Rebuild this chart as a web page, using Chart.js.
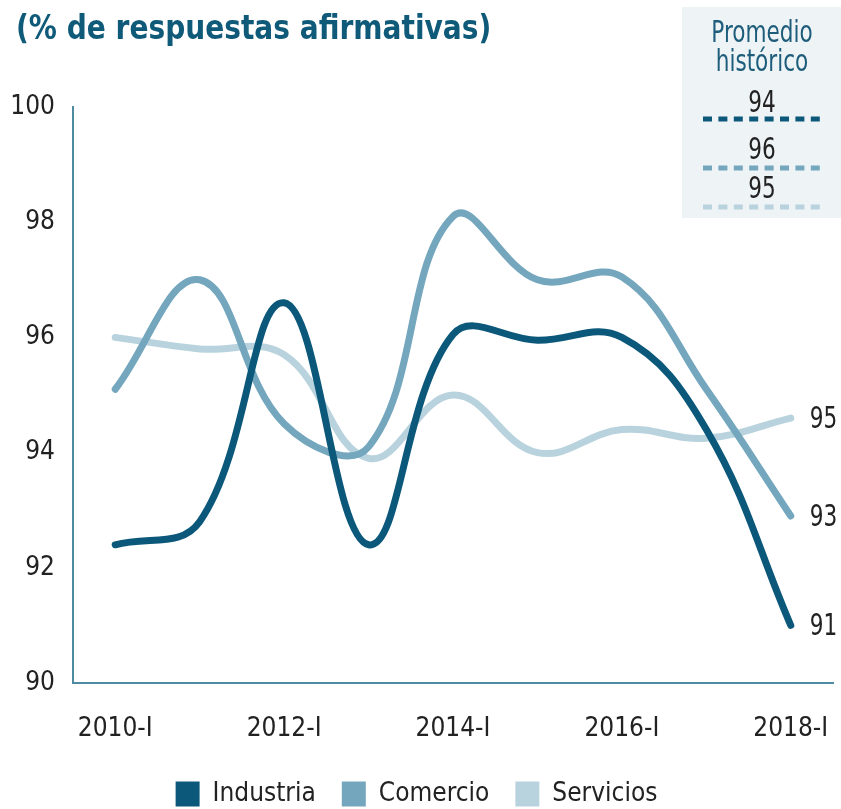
<!DOCTYPE html>
<html>
<head>
<meta charset="utf-8">
<script src="https://cdn.jsdelivr.net/npm/chart.js@4.4.0/dist/chart.umd.min.js"></script>
<style>
  html, body { margin: 0; padding: 0; background: #fff; }
  #wrap { width: 841px; height: 809px; position: relative; }
</style>
</head>
<body>
<div id="wrap"><canvas id="chart" width="841" height="809"></canvas></div>
<script>
// datos
const categories = ['2010-I', '2011-I', '2012-I', '2013-I', '2014-I', '2015-I', '2016-I', '2017-I', '2018-I'];
const industria = [92.4, 92.8, 96.6, 92.4, 96.05, 95.95, 96.0, 94.4, 91.0];
const comercio = [95.1, 97.0, 94.5, 94.1, 98.1, 97.0, 97.05, 95.1, 92.9];
const servicios = [96.0, 95.8, 95.7, 93.9, 95.0, 94.0, 94.4, 94.25, 94.6];
const seriesNames = ['Industria', 'Comercio', 'Servicios'];
const seriesColors = ['#0c587a', '#74a7bd', '#b9d3de'];
const historicalAvg = [94, 96, 95];
const yTicks = [90, 92, 94, 96, 98, 100];

const titleText = '(% de respuestas afirmativas)';
const FONT = '"DejaVu Sans Condensed", "DejaVu Sans", sans-serif';
const axisColor = '#4f8aa3';

Chart.defaults.font.family = FONT;

// texto estrechado horizontalmente (la fuente original es más angosta)
function narrowText(ctx, text, x, y, sx) {
    ctx.save();
    ctx.translate(x, y);
    ctx.scale(sx, 1);
    ctx.fillText(text, 0, 0);
    ctx.restore();
}

// título, recuadro de promedio histórico y etiquetas finales
const decorPlugin = {
    id: 'decor',
    afterDraw(chart) {
        const ctx = chart.ctx;
        ctx.save();

        ctx.font = 'bold 33px ' + FONT;
        ctx.fillStyle = '#0f5a79';
        ctx.textAlign = 'left';
        ctx.textBaseline = 'alphabetic';
        narrowText(ctx, titleText, 16, 39, 0.945);

        ctx.fillStyle = '#eef3f5';
        ctx.fillRect(682, 7, 159, 211);

        ctx.textAlign = 'center';
        ctx.textBaseline = 'middle';
        ctx.font = '30px ' + FONT;
        ctx.fillStyle = '#1d5d7b';
        narrowText(ctx, 'Promedio', 762, 34, 0.8);
        narrowText(ctx, 'histórico', 762, 63, 0.8);

        const numY = [104, 151, 190];
        const lineY = [119, 168, 207];
        historicalAvg.forEach((v, i) => {
            ctx.fillStyle = '#222';
            narrowText(ctx, String(v), 762, numY[i], 0.8);
            ctx.strokeStyle = seriesColors[i];
            ctx.lineWidth = 5;
            ctx.setLineDash([9, 6.4]);
            ctx.beginPath();
            ctx.moveTo(703, lineY[i]);
            ctx.lineTo(820, lineY[i]);
            ctx.stroke();
        });
        ctx.setLineDash([]);

        ctx.textAlign = 'left';
        ctx.fillStyle = '#222';
        chart.data.datasets.forEach((ds, i) => {
            const meta = chart.getDatasetMeta(i);
            const pt = meta.data[meta.data.length - 1];
            const v = ds.data[ds.data.length - 1];
            narrowText(ctx, String(Math.round(v)), pt.x + 19, pt.y + 2, 0.8);
        });

        ctx.restore();
    }
};

function makeDataset(label, data, color) {
    return {
        label: label,
        data: data,
        borderColor: color,
        backgroundColor: color,
        borderWidth: 7,
        borderCapStyle: 'round',
        tension: 0.4,
        pointRadius: 0,
        fill: false
    };
}

new Chart(document.getElementById('chart').getContext('2d'), {
    type: 'line',
    data: {
        labels: categories,
        datasets: [
            makeDataset(seriesNames[0], industria, seriesColors[0]),
            makeDataset(seriesNames[1], comercio, seriesColors[1]),
            makeDataset(seriesNames[2], servicios, seriesColors[2])
        ]
    },
    options: {
        responsive: false,
        animation: false,
        layout: {
            padding: { top: 107, right: 8, left: 0, bottom: 0 }
        },
        scales: {
            x: {
                offset: true,
                grid: { display: false, drawTicks: false },
                border: { display: true, color: axisColor, width: 2 },
                afterFit: function (scale) {
                    scale.height = 72;
                    scale.paddingLeft = 0;
                    scale.paddingRight = 0;
                },
                ticks: {
                    autoSkip: false,
                    maxRotation: 0,
                    padding: 31,
                    color: '#222',
                    font: { size: 26 },
                    callback: function (value, index) {
                        return index % 2 === 0 ? categories[index] : '';
                    }
                }
            },
            y: {
                min: yTicks[0],
                max: yTicks[yTicks.length - 1],
                grid: { display: false, drawTicks: false },
                border: { display: true, color: axisColor, width: 2 },
                afterFit: function (scale) { scale.width = 73; },
                afterBuildTicks: function (axis) {
                    axis.ticks = yTicks.map(v => ({ value: v }));
                },
                ticks: {
                    padding: 18,
                    color: '#222',
                    font: { size: 26 }
                }
            }
        },
        plugins: {
            legend: {
                position: 'bottom',
                maxHeight: 54,
                labels: {
                    boxWidth: 24,
                    boxHeight: 25,
                    padding: 26,
                    color: '#222',
                    font: { size: 26 },
                    generateLabels: function (chart) {
                        return Chart.defaults.plugins.legend.labels.generateLabels(chart).map(l => {
                            l.lineWidth = 0;
                            l.fillStyle = seriesColors[l.datasetIndex];
                            return l;
                        });
                    }
                }
            },
            tooltip: { enabled: false }
        }
    },
    plugins: [decorPlugin]
});
</script>
</body>
</html>
